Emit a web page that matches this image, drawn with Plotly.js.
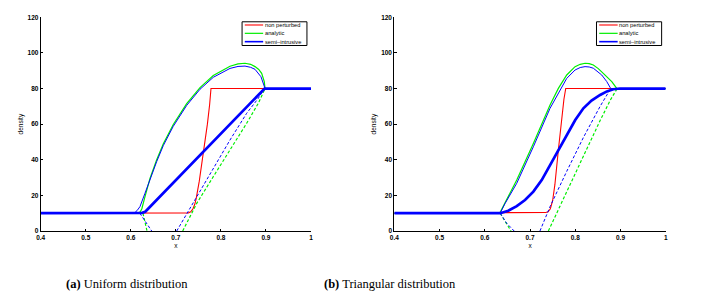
<!DOCTYPE html>
<html>
<head>
<meta charset="utf-8">
<script src="https://cdn.plot.ly/plotly-3.0.1.min.js"></script>
<style>html,body{margin:0;padding:0;background:#fff;}#chart{width:701px;height:307px;}</style>
</head>
<body>
<div id="chart"></div>
<script>
// ---- tick labels ----
var xTickVals = [0.4, 0.5, 0.6, 0.7, 0.8, 0.9, 1.0];
var xTickText = ["0.4", "0.5", "0.6", "0.7", "0.8", "0.9", "1"];
var yTickVals = [0, 20, 40, 60, 80, 100, 120];
var yTickText = ["0", "20", "40", "60", "80", "100", "120"];
var legendNames = ["non perturbed", "analytic", "semi\u2013intrusive"];
var captions = ["<b>(a)</b> Uniform distribution", "<b>(b)</b> Triangular distribution"];

// ---- (a) Uniform distribution ----
var uRedX = [0.4, 0.72, 0.728, 0.733, 0.738, 0.742, 0.745, 0.752, 0.7625, 0.77, 0.775, 0.778, 1.0];
var uRedY = [10, 10, 10.2, 10.8, 12.5, 15, 18, 28, 45.5, 60, 71, 80, 80];

var uAnaUpX = [0.4, 0.617, 0.621, 0.6245, 0.6315, 0.6426, 0.6575, 0.6722, 0.6943, 0.724, 0.7536, 0.7831, 0.8202, 0.838, 0.8535, 0.866, 0.8757, 0.884, 0.8905, 0.8963, 0.898, 1.0];
var uAnaUpY = [10, 10, 10.8, 12.5, 19.3, 29.5, 40, 49, 59.8, 71.5, 80.5, 87.3, 92.5, 93.8, 94.2, 93.6, 92.3, 90.7, 88.5, 83.9, 80, 80];

var uAnaLoX = [0.627, 0.632, 0.636, null, 0.7152, 0.7463, 0.7831, 0.8202, 0.8572, 0.883, 0.894, 0.898];
var uAnaLoY = [10, 5, 0, null, 0, 15.5, 30.5, 45.5, 60.5, 71.7, 78.2, 80];

var uSemiX = [0.4, 0.615, 0.625, 0.632, 0.897, 1.0];
var uSemiY = [10, 10, 10.2, 10.8, 80, 80];

var uSemiUpX = [0.4, 0.606, 0.6093, 0.614, 0.6204, 0.6315, 0.6426, 0.6575, 0.6722, 0.6943, 0.724, 0.7536, 0.7831, 0.8202, 0.838, 0.8535, 0.866, 0.8757, 0.889, 0.8963, 0.898, 1.0];
var uSemiUpY = [10, 10, 10.4, 11.5, 13.7, 21.2, 29.2, 39, 48, 58.8, 70.5, 79.6, 86.3, 91.3, 92.4, 92.6, 91.9, 90.8, 86.6, 81, 80, 80];

var uSemiLoX = [0.62, 0.633, 0.6464, null, 0.7019, 0.7463, 0.7831, 0.8202, 0.8572, 0.883, 0.8963];
var uSemiLoY = [10, 5, 0, null, 0, 19.3, 35.2, 51.1, 66.1, 74.5, 80];

// ---- (b) Triangular distribution ----
var tRedX = [0.4, 0.725, 0.7295, 0.735, 0.74, 0.745, 0.75, 0.755, 0.7627, 0.77, 0.775, 0.779, 1.0];
var tRedY = [10, 10, 10.2, 10.4, 10.8, 12.5, 17, 26, 45.5, 64, 74, 80, 80];

var tAnaUpX = [0.4, 0.625, 0.634, 0.645, 0.6707, 0.7074, 0.7443, 0.7627, 0.7812, 0.7996, 0.811, 0.8217, 0.831, 0.840, 0.851, 0.862, 0.8808, 0.8918, 0.896, 1.0];
var tAnaUpY = [10, 10, 10.5, 16, 28.6, 49.2, 70.7, 80.1, 87.6, 92.3, 93.6, 94.2, 94.0, 93.2, 91.2, 88.5, 83.9, 80.1, 80, 80];

var tAnaLoX = [0.634, 0.648, 0.658, null, 0.7406, 0.7812, 0.818, 0.855, 0.8775, 0.8918, 0.896];
var tAnaLoY = [10, 4, 0, null, 0, 22.5, 42, 62, 73.5, 79.6, 80];

var tSemiX = [0.4, 0.634, 0.652, 0.6707, 0.689, 0.7074, 0.7259, 0.7443, 0.7627, 0.7812, 0.80, 0.818, 0.836, 0.855, 0.87, 0.884, 0.899, 1.0];
var tSemiY = [10, 10, 11.4, 14, 17.4, 22.1, 28.6, 37, 46, 54.5, 62.3, 68.9, 73.2, 76.4, 78.4, 79.6, 80, 80];

var tSemiUpX = [0.4, 0.634, 0.645, 0.6707, 0.7074, 0.7443, 0.7812, 0.7996, 0.811, 0.8217, 0.831, 0.840, 0.8586, 0.8697, 0.8785, 1.0];
var tSemiUpY = [10, 10, 15.5, 26.8, 47.3, 68.9, 85.7, 90.4, 91.8, 92.3, 92.1, 91.4, 87.6, 83.9, 80, 80];

var tSemiLoX = [0.634, 0.6486, 0.665, null, 0.722, 0.7443, 0.7812, 0.818, 0.855, 0.8785];
var tSemiLoY = [10, 4.3, 0, null, 0, 13.7, 33.5, 52.5, 70, 80];

// ---- styling ----
var RED = "#ff0000", GREEN = "#00ee00", BLUE = "#0000ff";
var DASH = "3px,2px";

function tr(x, y, color, width, dash, xa, ya) {
  return {x: x, y: y, mode: "lines", type: "scatter", xaxis: xa, yaxis: ya,
          showlegend: false, hoverinfo: "skip", connectgaps: false,
          line: {color: color, width: width, dash: dash || "solid", shape: "linear"}};
}
function panel(d, xa, ya) {
  return [
    tr(d.redX, d.redY, RED, 1.1, null, xa, ya),
    tr(d.anaUpX, d.anaUpY, GREEN, 1.2, null, xa, ya),
    tr(d.anaLoX, d.anaLoY, GREEN, 1.2, DASH, xa, ya),
    tr(d.semiX, d.semiY, BLUE, 2.7, null, xa, ya),
    tr(d.semiUpX, d.semiUpY, BLUE, 1.0, null, xa, ya),
    tr(d.semiLoX, d.semiLoY, BLUE, 1.0, DASH, xa, ya)
  ];
}
var data = panel({redX: uRedX, redY: uRedY, anaUpX: uAnaUpX, anaUpY: uAnaUpY, anaLoX: uAnaLoX, anaLoY: uAnaLoY,
                  semiX: uSemiX, semiY: uSemiY, semiUpX: uSemiUpX, semiUpY: uSemiUpY, semiLoX: uSemiLoX, semiLoY: uSemiLoY}, "x", "y")
  .concat(panel({redX: tRedX, redY: tRedY, anaUpX: tAnaUpX, anaUpY: tAnaUpY, anaLoX: tAnaLoX, anaLoY: tAnaLoY,
                  semiX: tSemiX, semiY: tSemiY, semiUpX: tSemiUpX, semiUpY: tSemiUpY, semiLoX: tSemiLoX, semiLoY: tSemiLoY}, "x2", "y2"));

var W = 701, H = 307;
var tickFont = {family: "Liberation Sans, Arial, sans-serif", size: 6.5, color: "#000", weight: "bold"};
var titleFont = {family: "Liberation Sans, Arial, sans-serif", size: 6.5, color: "#000"};
function xaxis(domain, anchor) {
  return {domain: domain, anchor: anchor, range: [0.4, 1.0], tickmode: "array", tickvals: xTickVals, ticktext: xTickText,
          ticks: "inside", ticklen: 2.5, tickwidth: 1, tickcolor: "#000", showline: true, linecolor: "#000", linewidth: 1,
          showgrid: false, zeroline: false, tickfont: tickFont, fixedrange: true,
          title: {text: "x", font: titleFont, standoff: 3}};
}
function yaxis(anchor) {
  return {domain: [76 / H, 1 - 17.3 / H], anchor: anchor, range: [0, 120], tickmode: "array", tickvals: yTickVals, ticktext: yTickText,
          ticks: "inside", ticklen: 2.5, tickwidth: 1, tickcolor: "#000", showline: true, linecolor: "#000", linewidth: 1,
          showgrid: false, zeroline: false, tickfont: tickFont, fixedrange: true,
          title: {text: "density", font: titleFont, standoff: 3}};
}

// legend drawn as shapes/annotations in axis-domain coordinates
var legColors = [RED, GREEN, BLUE];
var legWidths = [1.1, 1.2, 1.6];
var legRows = [0.964, 0.925, 0.886];
var shapes = [], annotations = [];
[["x", "y"], ["x2", "y2"]].forEach(function (ax) {
  shapes.push({type: "rect", xref: ax[0] + " domain", yref: ax[1] + " domain", x0: 0.745, x1: 0.985, y0: 0.868, y1: 0.979,
               line: {color: "#000", width: 1}, fillcolor: "#fff"});
  for (var i = 0; i < 3; i++) {
    shapes.push({type: "line", xref: ax[0] + " domain", yref: ax[1] + " domain", x0: 0.755, x1: 0.823, y0: legRows[i], y1: legRows[i],
                 line: {color: legColors[i], width: legWidths[i]}});
    annotations.push({xref: ax[0] + " domain", yref: ax[1] + " domain", x: 0.826, y: legRows[i], xanchor: "left", yanchor: "middle",
                      text: legendNames[i], showarrow: false, borderpad: 0,
                      font: {family: "Liberation Sans, Arial, sans-serif", size: 5.7, color: "#000"}});
  }
});
var capFont = {family: "Liberation Serif, Times New Roman, serif", size: 12.5, color: "#000"};
annotations.push({xref: "paper", yref: "paper", x: 126.7 / W, y: (H - 284) / H, xanchor: "center", yanchor: "middle",
                  text: captions[0], showarrow: false, font: capFont});
annotations.push({xref: "paper", yref: "paper", x: 390 / W, y: (H - 284) / H, xanchor: "center", yanchor: "middle",
                  text: captions[1], showarrow: false, font: capFont});

var layout = {
  width: W, height: H, margin: {l: 0, r: 0, t: 0, b: 0}, paper_bgcolor: "#fff", plot_bgcolor: "#fff",
  showlegend: false,
  xaxis: xaxis([40.7 / W, 311 / W], "y"),
  yaxis: yaxis("x"),
  xaxis2: xaxis([394.3 / W, 665.7 / W], "y2"),
  yaxis2: yaxis("x2"),
  shapes: shapes, annotations: annotations
};
Plotly.newPlot("chart", data, layout, {displayModeBar: false, staticPlot: true});
</script>
</body>
</html>
